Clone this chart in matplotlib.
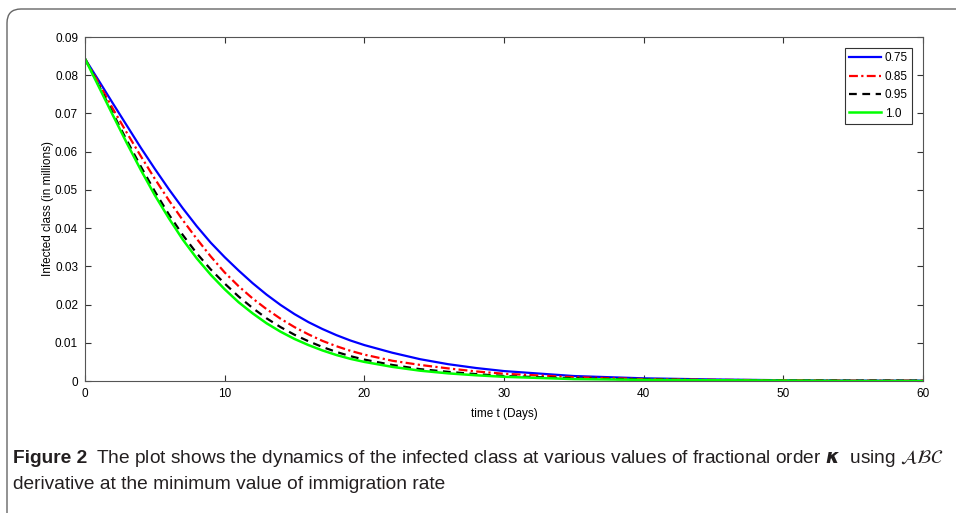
import numpy as np
import matplotlib
matplotlib.use("Agg")
import matplotlib.pyplot as plt
from matplotlib.patches import FancyBboxPatch
from matplotlib.transforms import IdentityTransform

# --- data ---
t = [0, 1, 2, 3, 4, 5, 6, 7, 8, 9, 10, 11, 12, 13, 14, 15, 16, 17, 18, 19, 20,
     22, 24, 26, 28, 30, 35, 40, 45, 50, 55, 60]
inf_075 = [0.0843, 0.0785, 0.0726, 0.0668, 0.0610, 0.0555, 0.0502, 0.0452, 0.0405, 0.0362, 0.0324,
           0.0289, 0.0256, 0.0226, 0.0199, 0.0175, 0.0154, 0.0136, 0.0120, 0.0106, 0.0094,
           0.0074, 0.0057, 0.0044, 0.0034, 0.0026, 0.0013, 0.0007, 0.0004, 0.0002, 0.0001, 0.0001]
inf_085 = [0.0843, 0.0778, 0.0712, 0.0649, 0.0588, 0.0529, 0.0473, 0.0421, 0.0372, 0.0326, 0.0284,
           0.0248, 0.0216, 0.0188, 0.0163, 0.0141, 0.0122, 0.0105, 0.0091, 0.0079, 0.0069,
           0.0053, 0.0042, 0.0033, 0.0025, 0.0019, 0.0010, 0.0005, 0.0003, 0.0002, 0.0001, 0.0001]
inf_095 = [0.0843, 0.0772, 0.0700, 0.0629, 0.0561, 0.0496, 0.0436, 0.0382, 0.0334, 0.0292, 0.0255,
           0.0221, 0.0191, 0.0164, 0.0141, 0.0121, 0.0104, 0.0089, 0.0076, 0.0065, 0.0056,
           0.0042, 0.0031, 0.0024, 0.0018, 0.0013, 0.0007, 0.0004, 0.0002, 0.0001, 0.0001, 0.0001]
inf_100 = [0.0843, 0.0769, 0.0695, 0.0622, 0.0552, 0.0486, 0.0426, 0.0370, 0.0321, 0.0278, 0.0240,
           0.0206, 0.0177, 0.0151, 0.0129, 0.0110, 0.0094, 0.0080, 0.0068, 0.0058, 0.0050,
           0.0037, 0.0027, 0.0020, 0.0015, 0.0011, 0.0005, 0.0003, 0.0002, 0.0001, 0.0000, 0.0000]
labels = ["0.75", "0.85", "0.95", "1.0"]

xticks = [0, 10, 20, 30, 40, 50, 60]
yticks = [0, 0.01, 0.02, 0.03, 0.04, 0.05, 0.06, 0.07, 0.08, 0.09]

plt.rcParams['font.family'] = ['Liberation Sans', 'DejaVu Sans']

fig = plt.figure(figsize=(9.56, 5.13), dpi=100)
ax = fig.add_axes([85/956, 1 - 381/513, (923 - 85)/956, (381 - 37)/513])

ax.plot(t, inf_075, color='#0000ff', lw=1.6, label=labels[0])
ax.plot(t, inf_085, color='#ff0000', lw=1.6, ls=(0, (4, 1.5, 1, 1.5)), label=labels[1])
ax.plot(t, inf_095, color='black', lw=1.6, ls=(0, (3.5, 2.5)), label=labels[2])
ax.plot(t, inf_100, color='#00ff00', lw=1.8, label=labels[3])

ax.set_xlim(0, 60)
ax.set_ylim(0, 0.09)
ax.set_xticks(xticks)
ax.set_yticks(yticks)
ax.set_xticklabels([str(v) for v in xticks])
ax.set_yticklabels(['0'] + ['%.2f' % v for v in yticks[1:]])
ax.tick_params(direction='in', top=True, right=True, length=4, width=0.8,
               labelsize=8.5, color='#333333', pad=5)
for s in ax.spines.values():
    s.set_color('#555555')
    s.set_linewidth(0.8)

ax.set_xlabel('time t (Days)', fontsize=8.5, labelpad=6)
ax.set_ylabel('Infected class (in millions)', fontsize=8.5, labelpad=1)

leg = ax.legend(loc='upper right', bbox_to_anchor=(0.9869, 0.968), fontsize=8.5,
                handlelength=2.7, handletextpad=0.3, borderpad=0.35, labelspacing=0.55,
                fancybox=False, framealpha=1, borderaxespad=0)
leg.get_frame().set_edgecolor('#333333')
leg.get_frame().set_linewidth(0.8)

# outer rounded frame (partly cut by the image edge)
frame = FancyBboxPatch((7, -30), 1000, 513 - 9 + 30,
                       boxstyle="round,pad=0,rounding_size=14",
                       transform=IdentityTransform(), fill=False,
                       edgecolor='#666666', lw=1.0)
fig.add_artist(frame)

# caption
cap_font = ['Liberation Sans', 'DejaVu Sans']
t1 = fig.text(13/956, 1 - 463/513, 'Figure 2', fontsize=13.8, fontweight='bold',
              family=cap_font, color='#231f20')
fig.canvas.draw()
bb = t1.get_window_extent()
x2 = (bb.x1 + 9) / 956
fig.text(x2, 1 - 463/513,
         r'The plot shows the dynamics of the infected class at various values of fractional order '
         r'$\boldsymbol{\kappa}$  using $\mathcal{ABC}$',
         fontsize=13.8, family=cap_font, color='#231f20')
fig.text(13/956, 1 - 489/513, 'derivative at the minimum value of immigration rate',
         fontsize=13.8, family=cap_font, color='#231f20')

fig.savefig('out.png', dpi=100)
